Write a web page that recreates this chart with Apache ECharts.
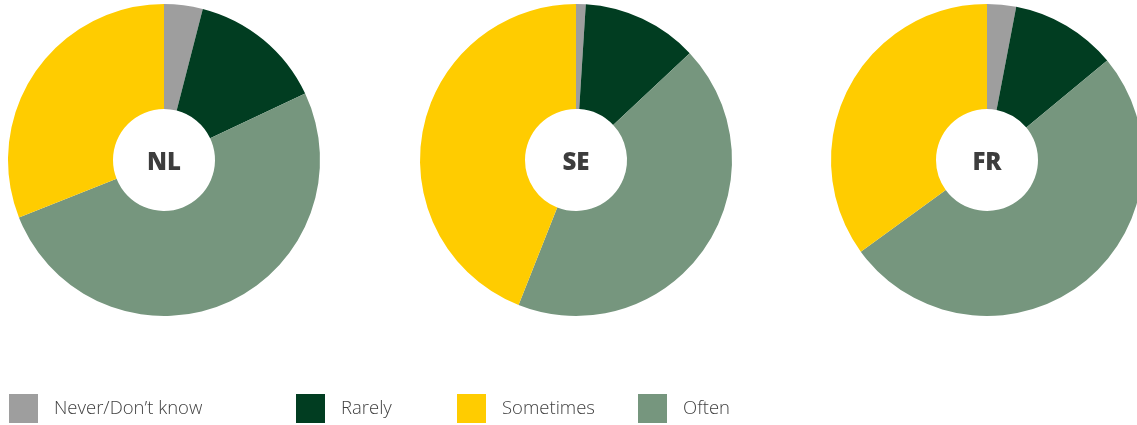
<!DOCTYPE html>
<html>
<head>
<meta charset="utf-8">
<script src="https://cdn.jsdelivr.net/npm/echarts@6/dist/echarts.min.js"></script>
<style>
  html, body { margin: 0; padding: 0; background: #ffffff; }
  #chart { width: 1137px; height: 425px; }
</style>
</head>
<body>
<div id="chart"></div>
<script>
// Answer categories, in legend order
const categories = ['Never/Don\u2019t know', 'Rarely', 'Sometimes', 'Often'];
const colors = { 'Never/Don\u2019t know': '#9e9e9e', 'Rarely': '#013d21', 'Sometimes': '#ffcc00', 'Often': '#76967e' };

// Countries and their shares (%), per category
const countries = ['NL', 'SE', 'FR'];
const never     = [4, 1, 3];
const rarely    = [14, 12, 11];
const sometimes = [31, 44, 35];
const often     = [51, 43, 51];

// Slices run clockwise from the top in this order
const sliceOrder = ['Never/Don\u2019t know', 'Rarely', 'Often', 'Sometimes'];
const valuesFor = {
  'Never/Don\u2019t know': never,
  'Rarely': rarely,
  'Sometimes': sometimes,
  'Often': often
};

const centersX = [164, 576, 987];
const centerY = 160;

const chart = echarts.init(document.getElementById('chart'), null, { renderer: 'canvas' });

const series = countries.map((c, i) => ({
  type: 'pie',
  name: c,
  center: [centersX[i], centerY],
  radius: [51, 156],
  startAngle: 90,
  clockwise: true,
  avoidLabelOverlap: false,
  silent: true,
  label: { show: false },
  labelLine: { show: false },
  itemStyle: { borderWidth: 0 },
  emphasis: { disabled: true },
  animation: false,
  data: sliceOrder.map(k => ({ name: k, value: valuesFor[k][i], itemStyle: { color: colors[k] } }))
}));

const titles = countries.map((c, i) => ({
  text: c,
  left: centersX[i],
  top: centerY - 9,
  padding: 0,
  textAlign: 'center',
  textStyle: {
    fontFamily: 'Open Sans',
    fontWeight: 800,
    fontSize: 24,
    color: '#3d3d3d'
  }
}));

// One legend per entry so each sits at its own column
const legendLeft = [9, 296, 457, 638];
const legends = categories.map((k, i) => ({
  data: [k],
  left: legendLeft[i],
  top: 394,
  padding: 0,
  orient: 'horizontal',
  icon: 'rect',
  itemWidth: 29,
  itemHeight: 29,
  selectedMode: false,
  textStyle: {
    fontFamily: 'Open Sans',
    fontWeight: 300,
    fontSize: 18.5,
    color: '#404040',
    padding: [0, 0, 0, 11]
  }
}));

chart.setOption({
  animation: false,
  color: categories.map(k => colors[k]),
  title: titles,
  legend: legends,
  series: series
});
</script>
</body>
</html>
